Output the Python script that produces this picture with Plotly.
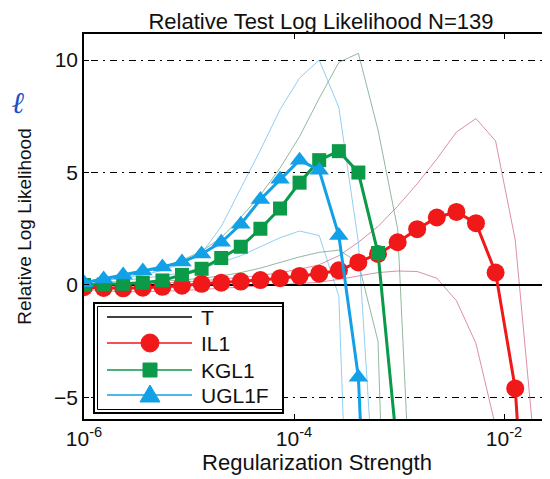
import plotly.graph_objects as go

# ---------------- data ----------------
log10_reg = [-6.000, -5.813, -5.627, -5.440, -5.253, -5.067, -4.880, -4.693,
             -4.507, -4.320, -4.133, -3.947, -3.760, -3.573, -3.387, -3.200,
             -3.013, -2.827, -2.640, -2.453, -2.267, -2.080, -1.893, -1.707,
             -1.520]
reg_strength = [10 ** e for e in log10_reg]

t_values = [0, 0, 0, 0, 0, 0, 0, 0, 0, 0, 0, 0, 0, 0, 0, 0, 0, 0, 0, 0, 0, 0, 0, 0, 0]

il1 = [-0.10, -0.13, -0.15, -0.12, -0.08, -0.03, 0.05, 0.10, 0.15, 0.22, 0.30,
       0.40, 0.50, 0.65, 1.00, 1.38, 1.90, 2.48, 3.00, 3.25, 2.75, 0.55, -4.60,
       -18.0, None]
il1_upper = [0.00, 0.00, 0.02, 0.05, 0.08, 0.12, 0.18, 0.25, 0.32, 0.42, 0.55,
             0.70, 0.90, 1.30, 1.90, 2.60, 3.50, 4.50, 5.60, 6.80, 7.40, 6.40,
             2.00, -7.40, None]
il1_lower = [-0.20, -0.25, -0.30, -0.30, -0.28, -0.25, -0.20, -0.15, -0.10,
             -0.05, 0.00, 0.05, 0.12, 0.25, 0.40, 0.55, 0.62, 0.60, 0.30, -0.70,
             -2.60, -6.30, -25.0, None, None]

kgl1 = [0.00, 0.02, 0.05, 0.10, 0.20, 0.45, 0.72, 1.20, 1.70, 2.50, 3.40, 4.55,
        5.55, 5.95, 5.00, 1.42, -7.5, None, None, None, None, None, None, None,
        None]
kgl1_upper = [0.10, 0.20, 0.35, 0.55, 0.80, 1.10, 1.50, 2.10, 3.00, 4.00, 5.20,
              6.60, 8.30, 9.90, 10.30, 6.90, 2.50, -16.0, None, None, None, None,
              None, None, None]
kgl1_lower = [-0.05, 0.00, 0.05, 0.10, 0.15, 0.22, 0.30, 0.40, 0.55, 0.75, 1.00,
              1.25, 1.45, 1.55, 1.00, -2.50, -30.0, None, None, None, None, None,
              None, None, None]

ugl1f = [0.10, 0.27, 0.44, 0.62, 0.80, 1.02, 1.38, 1.90, 2.70, 3.80, 4.70, 5.55,
         5.10, 2.20, -4.10, -23.0, None, None, None, None, None, None, None, None,
         None]
ugl1f_upper = [0.10, 0.20, 0.30, 0.45, 0.65, 0.95, 1.40, 2.60, 4.30, 6.00, 7.80,
               9.20, 10.00, 7.90, 1.90, -12.0, None, None, None, None, None, None,
               None, None, None]
ugl1f_lower = [0.00, 0.10, 0.20, 0.30, 0.40, 0.55, 0.75, 1.00, 1.30, 1.70, 2.10,
               2.40, 2.20, -0.50, -25.0, None, None, None, None, None, None, None,
               None, None, None]

x_tick_vals = [1e-6, 1e-4, 1e-2]
x_tick_text = ["10<sup>-6</sup>", "10<sup>-4</sup>", "10<sup>-2</sup>"]
y_tick_vals = [-5, 0, 5, 10]
y_tick_text = ["\u22125", "0", "5", "10"]

legend_names = ["T", "IL1", "KGL1", "UGL1F"]

# ---------------- styling ----------------
FONT = "Liberation Sans, Arial, sans-serif"
RED, GREEN, BLUE = "#f01818", "#0a9a48", "#12a0e6"
RED_T, GREEN_T, BLUE_T = "rgba(205,95,125,0.7)", "rgba(110,160,125,0.75)", "rgba(100,185,235,0.7)"

# the page body adds an 8px offset; the figure is sized so the plot fills the window
OFF = 8
W, H = 550 - OFF, 479 - OFF
ML, MR, MT, MB = 84 - OFF, 0, 34 - OFF, 60
PW, PH = W - ML - MR, H - MT - MB


def px(x):  # screen pixel -> paper
    return (x - OFF - ML) / PW


def py(y):
    return (H - MB - (y - OFF)) / PH


fig = go.Figure()

thin = [(il1_upper, RED_T), (il1_lower, RED_T),
        (kgl1_upper, GREEN_T), (kgl1_lower, GREEN_T),
        (ugl1f_upper, BLUE_T), (ugl1f_lower, BLUE_T)]
for ys, c in thin:
    fig.add_trace(go.Scatter(x=reg_strength, y=ys, mode="lines",
                             line=dict(color=c, width=1), showlegend=False,
                             hoverinfo="skip"))

fig.add_trace(go.Scatter(x=reg_strength, y=t_values, mode="lines", name="T",
                         line=dict(color="black", width=2), showlegend=False))
fig.add_trace(go.Scatter(x=reg_strength, y=il1, mode="lines+markers", name="IL1",
                         line=dict(color=RED, width=3),
                         marker=dict(symbol="circle", size=18, color=RED),
                         showlegend=False))
fig.add_trace(go.Scatter(x=reg_strength, y=kgl1, mode="lines+markers", name="KGL1",
                         line=dict(color=GREEN, width=3),
                         marker=dict(symbol="square", size=14, color=GREEN),
                         showlegend=False))
fig.add_trace(go.Scatter(x=reg_strength, y=ugl1f, mode="lines+markers", name="UGL1F",
                         line=dict(color=BLUE, width=3),
                         marker=dict(symbol="triangle-up", size=17, color=BLUE),
                         showlegend=False))

# ---------------- manual MATLAB-style legend ----------------
shapes = []
shapes.append(dict(type="rect", xref="paper", yref="paper",
                   x0=px(94), x1=px(283), y0=py(413), y1=py(303),
                   line=dict(color="black", width=2), fillcolor="white", layer="above"))
shapes.append(dict(type="rect", xref="paper", yref="paper",
                   x0=px(97.5), x1=px(283), y0=py(409.5), y1=py(306.5),
                   line=dict(color="black", width=1), fillcolor="rgba(0,0,0,0)", layer="above"))
rows = [317, 343, 370, 395]
cols = ["black", RED, GREEN, BLUE]
for r, c in zip(rows, cols):
    shapes.append(dict(type="line", xref="paper", yref="paper",
                       x0=px(107), x1=px(192), y0=py(r), y1=py(r),
                       line=dict(color=c, width=1.5), layer="above"))
shapes.append(dict(type="circle", xref="paper", yref="paper",
                   x0=px(141), x1=px(159), y0=py(352), y1=py(334),
                   line=dict(color=RED, width=1), fillcolor=RED, layer="above"))
shapes.append(dict(type="rect", xref="paper", yref="paper",
                   x0=px(143), x1=px(157), y0=py(377), y1=py(363),
                   line=dict(color=GREEN, width=1), fillcolor=GREEN, layer="above"))
tri = "M {:.5f},{:.5f} L {:.5f},{:.5f} L {:.5f},{:.5f} Z".format(
    px(150), py(385), px(140), py(402), px(160), py(402))
shapes.append(dict(type="path", xref="paper", yref="paper", path=tri,
                   line=dict(color=BLUE, width=1), fillcolor=BLUE, layer="above"))

annotations = []
for r, name in zip(rows, legend_names):
    annotations.append(dict(xref="paper", yref="paper", x=px(199), y=py(r),
                            text=name, showarrow=False, xanchor="left",
                            yanchor="middle", font=dict(family=FONT, size=21, color="#111")))
annotations.append(dict(xref="paper", yref="paper", x=px(10), y=py(103),
                        text="<b><i>\u2113</i></b>", showarrow=False, xanchor="left",
                        yanchor="middle", font=dict(family="DejaVu Serif", size=30,
                                                    color="#1d4fc4")))

fig.update_layout(
    width=W, height=H,
    margin=dict(l=ML, r=MR, t=MT, b=MB, autoexpand=False),
    paper_bgcolor="white", plot_bgcolor="white",
    font=dict(family=FONT, size=21, color="#111"),
    title=dict(text="Relative Test Log Likelihood N=139", xref="container",
               x=(321 - OFF) / W, y=1 - (21 - OFF) / H, xanchor="center",
               yanchor="middle",
               font=dict(family=FONT, size=22, color="#111")),
    shapes=shapes, annotations=annotations,
    showlegend=False,
)
fig.update_xaxes(type="log", range=[-6, -6 + PW / 105.0], automargin=False,
                 tickvals=x_tick_vals, ticktext=x_tick_text,
                 ticks="inside", ticklen=5, tickwidth=1.2, tickcolor="black",
                 showline=True, linecolor="black", linewidth=1.5, mirror="ticks",
                 showgrid=False, zeroline=False,
                 tickfont=dict(family=FONT, size=21, color="#111"),
                 title=dict(text="Regularization Strength", standoff=3,
                            font=dict(family=FONT, size=22, color="#111")))
fig.update_yaxes(range=[-5.96, 11.16], automargin=False,
                 tickvals=y_tick_vals, ticktext=y_tick_text,
                 ticks="inside", ticklen=5, tickwidth=1.2, tickcolor="black",
                 showline=True, linecolor="black", linewidth=1.5, mirror=False,
                 showgrid=True, gridcolor="black", gridwidth=1.2,
                 griddash="2px,5px,7px,5px", zeroline=False,
                 tickfont=dict(family=FONT, size=21, color="#111"),
                 title=dict(text="Relative Log Likelihood", standoff=17,
                            font=dict(family=FONT, size=19, color="#111")))

fig.write_html("out.html")
